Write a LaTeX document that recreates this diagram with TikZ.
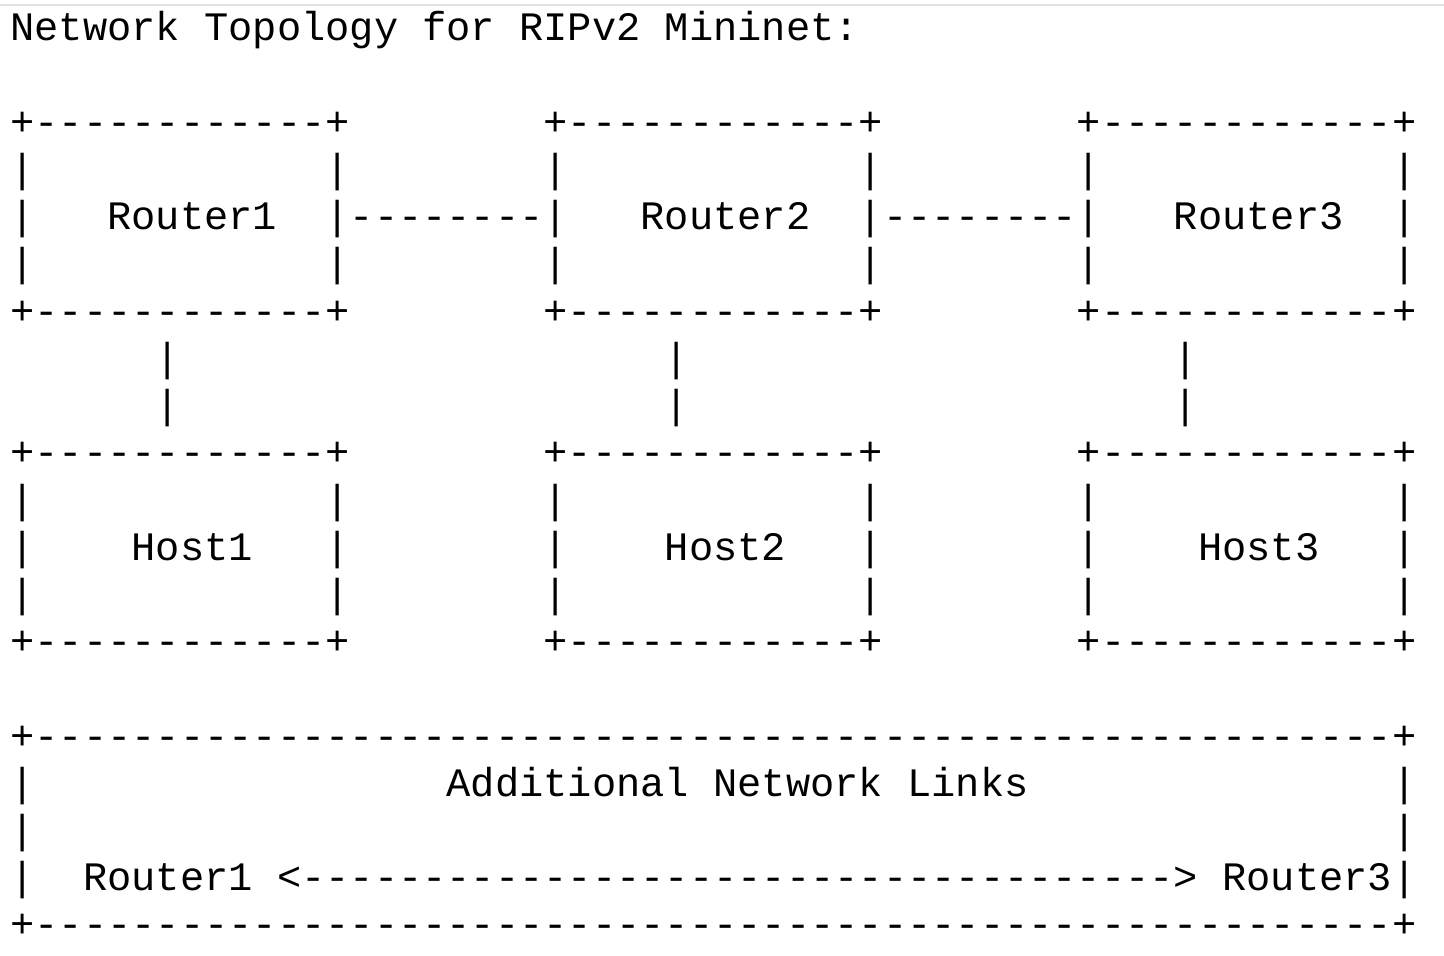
\documentclass[tikz,border=0pt]{standalone}
\usepackage{fontspec}
\newfontfamily\mono{Liberation Mono}
\tikzset{
  ascii/.style = {anchor=base west, inner sep=0pt, font=\mono\fontsize{20.2}{24}\selectfont}
}
% place text at a character column and row
\newcommand\asc[4]{\node[ascii] (#1) at ({5pt+#2*12.12pt},{-20.5pt-#3*23.6pt}) {#4};}

\begin{document}
\begin{tikzpicture}
\useasboundingbox (0,0) rectangle (722pt,-478pt);
\draw[black!12, line width=0.6pt] (0,-2.5pt) -- (722pt,-2.5pt);
\asc{title}{0}{0}{Network Topology for RIPv2 Mininet:}
% boxes
\foreach \r in {2,6,9,13}
  \foreach \c in {0,22,44}
    \asc{edge-\r-\c}{\c}{\r}{+------------+};
\foreach \r in {3,5,10,11,12}
  \foreach \c in {0,13,22,35,44,57}
    \asc{side-\r-\c}{\c}{\r}{|};
\asc{r1side}{0}{4}{|}
\asc{r3side}{57}{4}{|}
\asc{router1}{4}{4}{Router1}
\asc{router2}{26}{4}{Router2}
\asc{router3}{48}{4}{Router3}
\asc{link12}{13}{4}{|--------|}
\asc{link23}{35}{4}{|--------|}
% router to host
\foreach \r in {7,8}
  \foreach \c in {6,27,48}
    \asc{up-\r-\c}{\c}{\r}{|};
\asc{host1}{5}{11}{Host1}
\asc{host2}{27}{11}{Host2}
\asc{host3}{49}{11}{Host3}
% additional links
\foreach \r in {15,19}
  \asc{wide-\r}{0}{\r}{+--------------------------------------------------------+};
\foreach \r in {16,17,18}
  \asc{wl-\r}{0}{\r}{|};
\foreach \r in {16,17}
  \asc{wr-\r}{57}{\r}{|};
\asc{extra}{18}{16}{Additional Network Links}
\asc{r1r3}{3}{18}{Router1 <------------------------------------> Router3|}
\end{tikzpicture}
\end{document}
